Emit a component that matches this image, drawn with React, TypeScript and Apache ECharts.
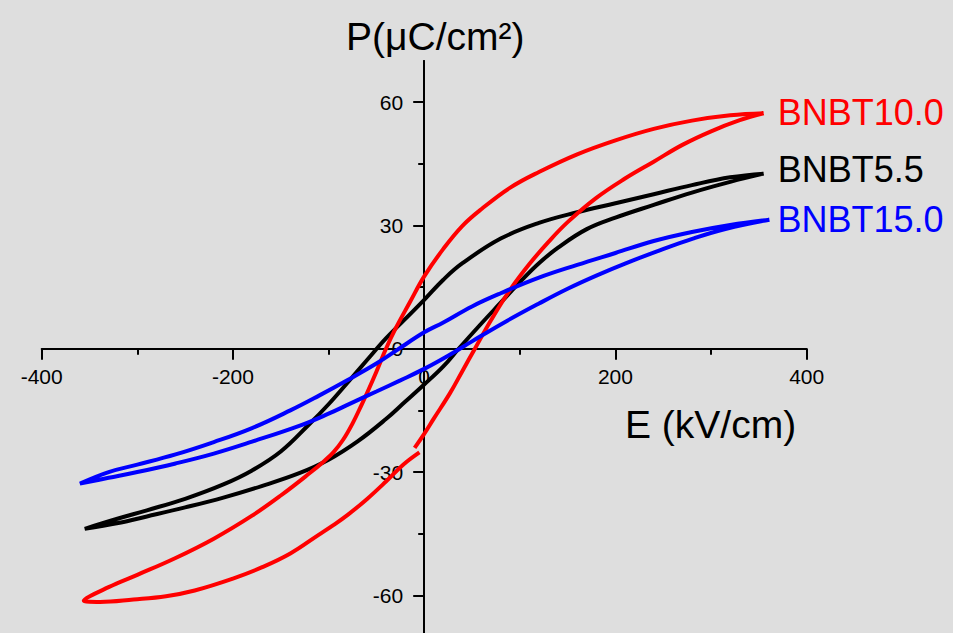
import React, { useEffect, useRef } from "react";
import * as echarts from "echarts";

// ---- axis ticks ----
const xMin = -400;
const xMax = 400;
const xInterval = 200;
const yMin = -70;
const yMax = 70;
const yLabelValues = [-60, -30, 0, 30, 60];
const yMinorValues = [-45, -15, 15, 45];

const xAxisName = "E (kV/cm)";
const yAxisName = "P(\u03BCC/cm\u00B2)";

// ---- series names ----
const seriesNames = ["BNBT5.5", "BNBT10.0", "BNBT15.0"];
const seriesColors = ["#000000", "#ff0000", "#0000ff"];

// ---- BNBT5.5 (black) loop: from +Emax along upper branch, back along lower branch ----
const bnbt55E = [355, 320, 280, 240, 200, 160, 120, 80, 40, 20, 0, -20, -40, -60, -80, -100, -120, -150, -180, -210, -250, -290, -320, -355,
  -320, -290, -250, -210, -170, -130, -100, -70, -40, -20, 0, 20, 36, 60, 80, 100, 120, 140, 170, 200, 240, 280, 320, 355];
const bnbt55P = [42.6, 41.7, 39.8, 37.6, 35.4, 33.2, 30.6, 26.8, 20.8, 16.8, 11.9, 7.2, 2.5, -2.8, -8.2, -13.5, -18.3, -25, -29.6, -33, -36.5, -39.3, -41.3, -43.8,
  -42.4, -40.8, -38.6, -36.2, -33.4, -30.2, -27, -22.6, -17.1, -12.9, -8.7, -4.3, 0, 6.2, 11.2, 16.2, 20.8, 24.6, 29.1, 31.9, 35, 38, 40.6, 42.6];

// ---- BNBT10.0 (red) loop (null = gap in the measured curve) ----
const bnbt100E = [355, 320, 280, 240, 200, 160, 120, 90, 60, 40, 20, 0, -15, -30, -40, -50, -60, -65, -75, -85, -95, -105, -120, -150, -180, -220, -260, -300, -330, -356,
  -339, -304, -270, -240, -200, -170, -140, -110, -95, -80, -60, -40, -22, -5, null, -10, 0, 10, 27, 40, 53, 70, 90, 110, 130, 150, 180, 210, 240, 270, 300, 330, 355];
const bnbt100P = [57.3, 56.8, 55.5, 53.5, 50.7, 47.3, 43, 39.2, 34, 29.9, 24.3, 17.6, 11.3, 4.9, 0, -5.6, -10.9, -13.4, -18.2, -22.2, -25.2, -27.4, -30.3, -35.7, -40.6, -46.2, -50.9, -55, -58, -61.3,
  -61.6, -61, -60.2, -58.8, -55.9, -53.2, -49.8, -45.2, -42.9, -40.4, -36.6, -32.3, -28.2, -25.2, null, -24.1, -20.7, -17, -10.8, -5.4, 0, 7, 14.4, 20.6, 26, 30.8, 36.7, 41.4, 45.5, 49.6, 52.9, 55.6, 57.3];

// ---- BNBT15.0 (blue) loop ----
const bnbt150E = [361, 320, 280, 240, 200, 160, 120, 80, 50, 20, 0, -29, -50, -80, -110, -140, -180, -220, -260, -300, -330, -360,
  -330, -300, -260, -220, -180, -130, -100, -78, -50, -25, 0, 25, 50, 86, 120, 150, 180, 212, 247, 281, 316, 361];
const bnbt150P = [31.4, 30.1, 28.4, 26.2, 23.3, 20.4, 17.3, 13.5, 10.3, 6.4, 4, -0.4, -3.6, -7.6, -11.4, -15, -19.3, -22.7, -25.7, -28.2, -30, -32.8,
  -31.4, -30, -27.9, -25.5, -22.6, -18.7, -15.8, -13.4, -10.4, -7.7, -4.9, -1.7, 1.8, 6.7, 11, 14.6, 17.8, 20.9, 24, 26.8, 29.2, 31.4];

const toPairs = (xs: (number | null)[], ys: (number | null)[]) =>
  xs.map((x, i) => (x === null || ys[i] === null ? ["-", "-"] : [x, ys[i]]));

const loops = [
  toPairs(bnbt55E, bnbt55P),
  toPairs(bnbt100E, bnbt100P),
  toPairs(bnbt150E, bnbt150P),
];
const labelOffsets = [[0, -4], [0, -1], [-6, 0]];

const FONT = "'Liberation Sans', Arial, Helvetica, sans-serif";

// grid geometry (pixels)
const GRID_LEFT = 41.7;
const GRID_WIDTH = 765;
const GRID_TOP = 61;
const GRID_HEIGHT = 575.5;

export default function App() {
  const ref = useRef<HTMLDivElement>(null);
  useEffect(() => {
    if (!ref.current) return;
    const chart = echarts.init(ref.current, null, { renderer: "svg" });
    const axisLineStyle = { color: "#000", width: 2 };
    // put the axes through the origin
    const xOffset = -(GRID_HEIGHT * (0 - yMin)) / (yMax - yMin);
    const yOffset = -(GRID_WIDTH * (0 - xMin)) / (xMax - xMin);
    chart.setOption({
      animation: false,
      backgroundColor: "#dedede",
      grid: {
        left: GRID_LEFT,
        width: GRID_WIDTH,
        top: GRID_TOP,
        height: GRID_HEIGHT,
        containLabel: false,
        outerBoundsMode: "none",
      },
      xAxis: {
        type: "value",
        min: xMin,
        max: xMax,
        interval: xInterval,
        position: "bottom",
        offset: xOffset,
        axisLine: { show: true, onZero: false, lineStyle: axisLineStyle },
        axisTick: { show: true, inside: false, length: 11, lineStyle: axisLineStyle },
        minorTick: { show: true, splitNumber: 2, length: 6, lineStyle: axisLineStyle },
        axisLabel: { color: "#000", fontSize: 21, fontFamily: FONT, margin: 17, showMinLabel: true, showMaxLabel: true },
        splitLine: { show: false },
      },
      yAxis: [
        {
          type: "value",
          min: yMin,
          max: yMax,
          position: "left",
          offset: yOffset,
          axisLine: { show: true, onZero: false, lineStyle: axisLineStyle },
          axisTick: { show: true, inside: false, length: 11, customValues: yLabelValues, lineStyle: axisLineStyle },
          axisLabel: { color: "#000", fontSize: 21, fontFamily: FONT, margin: 21, customValues: yLabelValues },
          splitLine: { show: false },
        },
        {
          type: "value",
          min: yMin,
          max: yMax,
          position: "left",
          offset: yOffset,
          axisLine: { show: true, onZero: false, lineStyle: axisLineStyle },
          axisTick: { show: true, inside: false, length: 6, customValues: yMinorValues, lineStyle: axisLineStyle },
          axisLabel: { show: false },
          splitLine: { show: false },
        },
      ],
      series: loops.map((data, i) => ({
        type: "line",
        name: seriesNames[i],
        data,
        showSymbol: false,
        smooth: 0.4,
        connectNulls: false,
        lineStyle: { color: seriesColors[i], width: 4 },
        itemStyle: { color: seriesColors[i] },
        endLabel: {
          show: true,
          formatter: "{a}",
          color: seriesColors[i],
          fontSize: 36,
          fontFamily: FONT,
          distance: 14,
          offset: labelOffsets[i],
        },
      })),
      graphic: [
        {
          type: "text",
          left: 346,
          top: 17,
          style: { text: yAxisName, fontSize: 39, fontFamily: FONT, fill: "#000" },
        },
        {
          type: "text",
          left: 625,
          top: 405,
          style: { text: xAxisName, fontSize: 39, fontFamily: FONT, fill: "#000" },
        },
      ],
    });
    return () => chart.dispose();
  }, []);
  return (
    <div
      ref={ref}
      style={{ position: "fixed", left: 0, top: 0, width: 953, height: 633 }}
    />
  );
}
